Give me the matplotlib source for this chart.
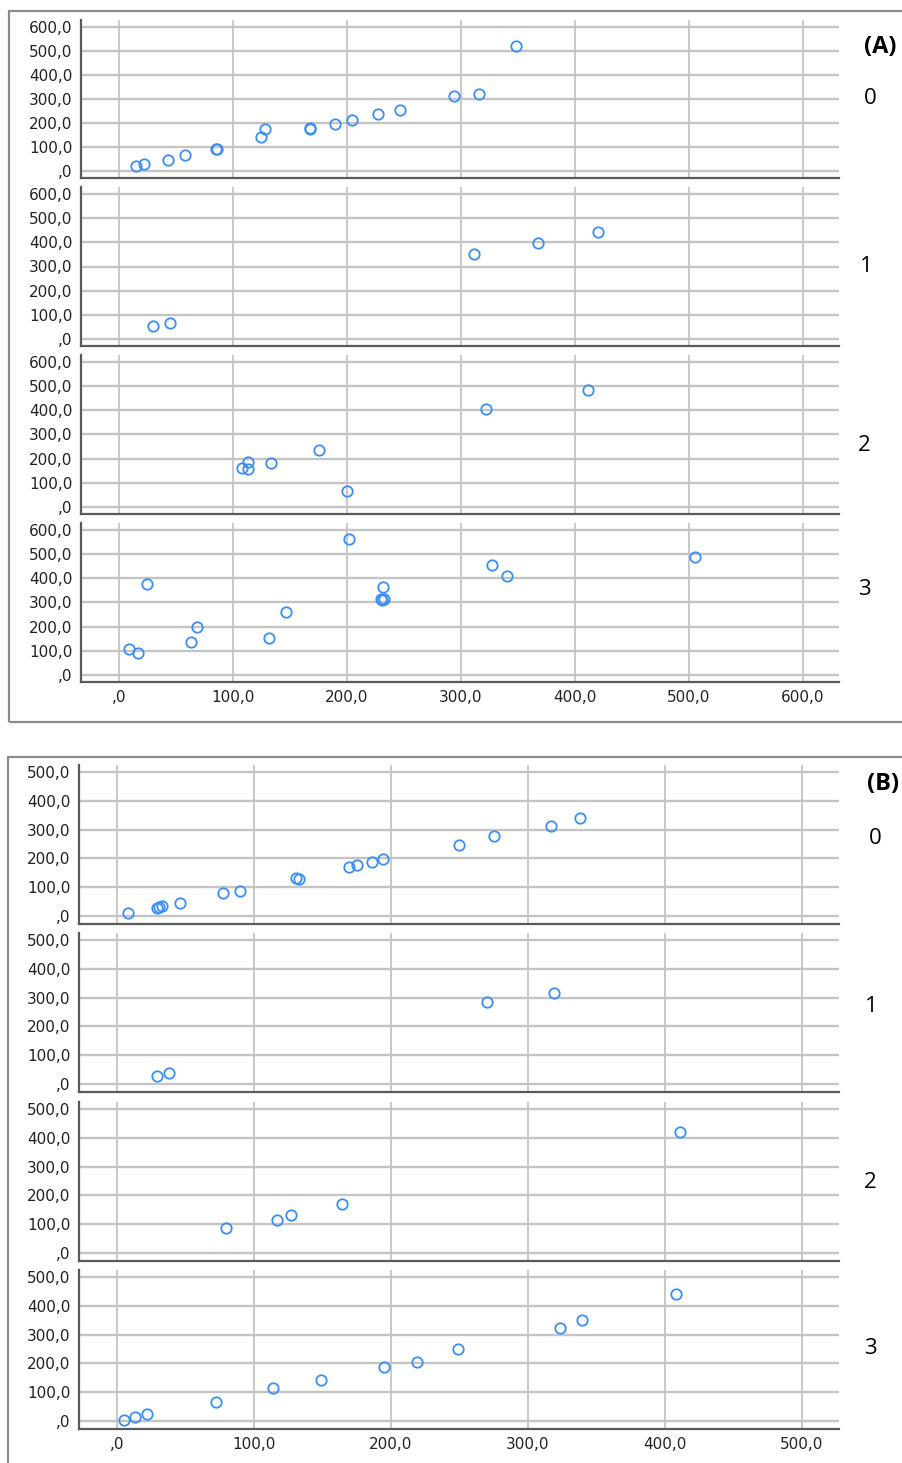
import matplotlib
matplotlib.use("Agg")
import matplotlib.pyplot as plt
from matplotlib.patches import Rectangle
from matplotlib.ticker import FuncFormatter

W, H = 903, 1463

# ---------------- data ----------------
groups = ["0", "1", "2", "3"]

# Panel A
a0_x = [14.9, 21.9, 43.6, 57.9, 85.0, 86.5, 124.6, 128.7, 167.5, 168.3, 190.0, 205.0, 227.5, 247.0, 294.0, 315.8, 348.8]
a0_y = [21, 29, 47, 67, 91, 93, 143, 176, 175, 178, 196, 212, 236, 254, 312, 321, 522]
a1_x = [29.8, 44.7, 311.4, 367.8, 421.0]
a1_y = [53, 68, 350, 396, 443]
a2_x = [108.5, 113.2, 113.7, 133.3, 176.0, 200.3, 322.5, 411.4]
a2_y = [161, 158, 186, 183, 237, 68, 407, 483]
a3_x = [9.1, 16.7, 25.1, 63.7, 68.7, 132.2, 146.5, 202.3, 230.0, 231.5, 232.5, 231.9, 327.8, 340.4, 505.5]
a3_y = [108, 91, 378, 138, 200, 154, 261, 564, 315, 311, 313, 365, 457, 410, 488]

# Panel B
b0_x = [8.3, 29.0, 30.5, 32.8, 46.2, 77.1, 89.5, 130.9, 132.8, 169.1, 175.4, 186.4, 193.9, 249.6, 275.2, 317.0, 338.0]
b0_y = [9, 28, 30, 33, 45, 81, 88, 131, 127, 171, 178, 186, 198, 245, 277, 312, 341]
b1_x = [29.2, 38.2, 269.8, 318.8]
b1_y = [29, 38, 285, 315]
b2_x = [79.3, 116.5, 127.2, 164.5, 411.0]
b2_y = [88, 115, 132, 169, 421]
b3_x = [5.4, 13.1, 21.9, 72.3, 113.6, 149.2, 194.9, 219.2, 248.6, 323.1, 339.7, 408.0]
b3_y = [3, 15, 24, 67, 115, 142, 186, 203, 251, 323, 351, 442]

a_ticks = [0, 100, 200, 300, 400, 500, 600]
b_ticks = [0, 100, 200, 300, 400, 500]

# ---------------- style ----------------
BLUE = "#3a8ef6"
GRID = "#c4c4c4"
SPINE = "#5a5a5a"
TXT = "#222222"

def fmt(v, pos=None):
    if abs(v) < 1e-9:
        return ",0"
    return f"{v:.1f}".replace(".", ",")

fig = plt.figure(figsize=(W / 100, H / 100), dpi=100)

def px_axes(left, right, top, bottom):
    return fig.add_axes([left / W, 1 - bottom / H, (right - left) / W, (bottom - top) / H])

def style(ax, xlim, ylim, xt, yt, show_x):
    ax.set_xlim(*xlim)
    ax.set_ylim(*ylim)
    ax.set_xticks(xt)
    ax.set_yticks(yt)
    ax.xaxis.set_major_formatter(FuncFormatter(fmt))
    ax.yaxis.set_major_formatter(FuncFormatter(fmt))
    ax.grid(True, axis="x", color=GRID, lw=1.3, zorder=0)
    ax.grid(True, axis="y", color=GRID, lw=1.7, zorder=0)
    ax.set_axisbelow(True)
    for s in ("top", "right"):
        ax.spines[s].set_visible(False)
    for s in ("left", "bottom"):
        ax.spines[s].set_color(SPINE)
        ax.spines[s].set_linewidth(1.6)
    ax.tick_params(length=0, labelsize=11, labelcolor=TXT, pad=6)
    if not show_x:
        ax.tick_params(labelbottom=False)

def scatter(ax, x, y):
    ax.plot(x, y, ls="none", marker="o", ms=7.5, mfc="none", mec=BLUE, mew=1.3, zorder=3)

# Panel frames
fig.add_artist(Rectangle((9 / W, 1 - 722 / H), (W + 20 - 9) / W, (722 - 11) / H,
                         transform=fig.transFigure, fill=False, ec="#8a8a8a", lw=1.6, clip_on=False))
fig.add_artist(Rectangle((8 / W, 1 - (H + 20) / H), (W + 20 - 8) / W, (H + 20 - 757) / H,
                         transform=fig.transFigure, fill=False, ec="#8a8a8a", lw=1.6, clip_on=False))

LABEL_FONT = ["Open Sans", "DejaVu Sans"]

# Panel A
a_rows = [(20, 178), (187, 346), (355, 514), (523, 682)]
a_lab = [(870, 99), (866, 266), (864, 445), (864, 590)]
a_data = [(a0_x, a0_y), (a1_x, a1_y), (a2_x, a2_y), (a3_x, a3_y)]
for i, ((t, b), (x, y)) in enumerate(zip(a_rows, a_data)):
    ax = px_axes(81, 839, t, b)
    style(ax, (-33, 632), (-29, 629), a_ticks, a_ticks, i == 3)
    scatter(ax, x, y)
    lx, ly = a_lab[i]
    fig.text(lx / W, 1 - ly / H, groups[i], fontsize=16, family=LABEL_FONT,
             ha="center", va="center", color="black")
fig.text(880 / W, 1 - 47 / H, "(A)", fontsize=17, family=LABEL_FONT, fontweight="bold",
         ha="center", va="center", color="black")

# Panel B
b_rows = [(765, 924), (933, 1092), (1102, 1261), (1270, 1429)]
b_lab = [(875, 839), (871, 1007), (870, 1182), (870, 1349)]
b_data = [(b0_x, b0_y), (b1_x, b1_y), (b2_x, b2_y), (b3_x, b3_y)]
for i, ((t, b), (x, y)) in enumerate(zip(b_rows, b_data)):
    ax = px_axes(79, 839, t, b)
    style(ax, (-27.7, 527), (-28, 524), b_ticks, b_ticks, i == 3)
    scatter(ax, x, y)
    lx, ly = b_lab[i]
    fig.text(lx / W, 1 - ly / H, groups[i], fontsize=16, family=LABEL_FONT,
             ha="center", va="center", color="black")
fig.text(883 / W, 1 - 784 / H, "(B)", fontsize=17, family=LABEL_FONT, fontweight="bold",
         ha="center", va="center", color="black")

fig.savefig("out.png", dpi=100)
